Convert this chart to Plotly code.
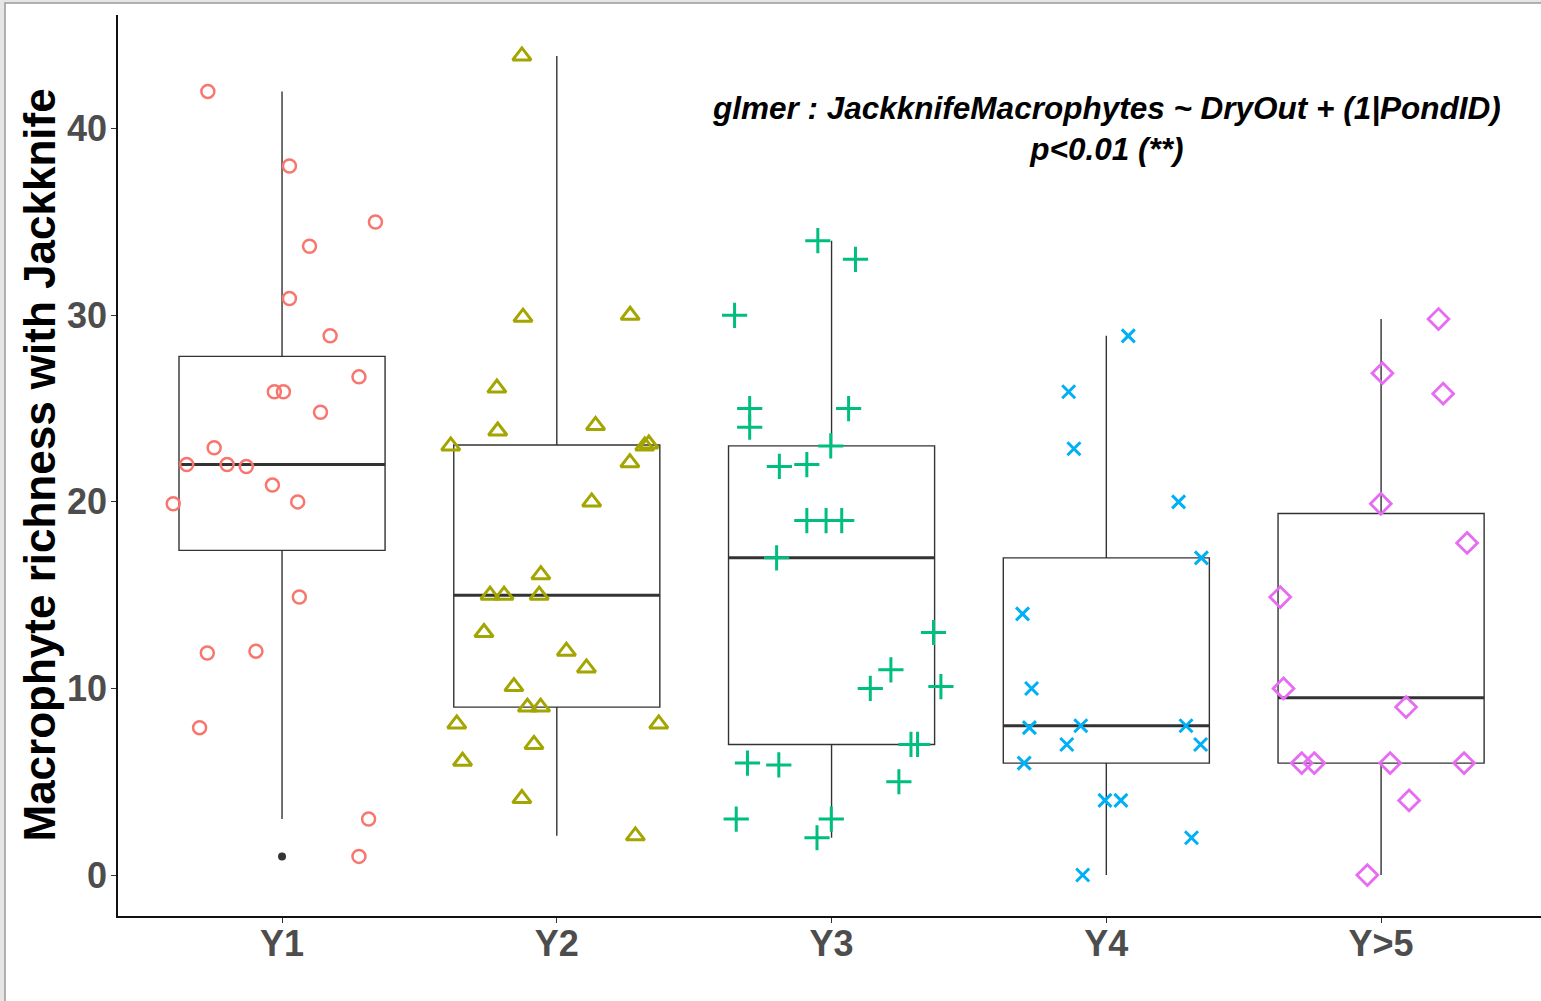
import numpy as np
import plotly.graph_objects as go

# ---------------- data ----------------
categories = ["Y1", "Y2", "Y3", "Y4", "Y>5"]
colors = ["#F8766D", "#A3A500", "#00BF7D", "#00B0F6", "#E76BF3"]
symbols = ["circle-open", "triangle-up-open", "cross-thin-open", "x-thin-open", "diamond-open"]

y1_vals = [42.0, 38.0, 35.0, 33.7, 30.9, 28.9, 26.7, 25.9, 25.9, 24.8, 22.9, 22.0,
           22.0, 21.9, 20.9, 19.9, 20.0, 14.9, 11.9, 12.0, 7.9, 3.0, 1.0]
y1_jit = [-0.27, 0.027, 0.34, 0.10, 0.027, 0.175, 0.28, -0.028, 0.005, 0.14, -0.247, -0.347,
          -0.20, -0.13, -0.035, -0.396, 0.057, 0.063, -0.272, -0.095, -0.30, 0.315, 0.28]

y2_vals = [43.9, 29.9, 30.0, 26.1, 23.8, 24.1, 23.0, 23.0, 23.1, 22.1, 20.0, 16.1, 15.0,
           15.0, 15.0, 13.0, 12.0, 11.1, 10.1, 9.0, 9.0, 8.1, 8.1, 7.0, 6.1, 4.1, 2.1]
y2_jit = [-0.127, -0.123, 0.267, -0.218, -0.215, 0.141, -0.386, 0.32, 0.335, 0.266, 0.127, -0.058, -0.243,
          -0.192, -0.064, -0.265, 0.035, 0.108, -0.156, -0.107, -0.059, -0.364, 0.371, -0.083, -0.343, -0.127, 0.286]

y3_vals = [34.0, 33.0, 30.0, 25.0, 24.0, 25.0, 23.0, 21.9, 22.0, 19.0, 19.0, 19.0, 17.0,
           13.0, 11.0, 10.0, 10.1, 7.0, 7.0, 6.0, 5.9, 5.0, 3.0, 3.0, 2.0]
y3_jit = [-0.05, 0.087, -0.353, -0.298, -0.298, 0.062, -0.003, -0.19, -0.09, -0.09, -0.02, 0.037, -0.20,
          0.371, 0.216, 0.141, 0.398, 0.289, 0.313, -0.306, -0.192, 0.245, -0.347, -0.001, -0.053]

y4_vals = [28.9, 25.9, 22.85, 20.0, 17.0, 14.0, 10.0, 7.9, 8.0, 8.0, 7.0, 7.0, 6.0, 4.0, 4.0, 2.0, 0.0]
y4_jit = [0.08, -0.137, -0.118, 0.263, 0.346, -0.305, -0.272, -0.28, -0.093, 0.29, -0.144, 0.343,
          -0.299, -0.005, 0.053, 0.31, -0.086]

y5_vals = [29.8, 26.9, 25.8, 19.9, 17.8, 14.9, 10.0, 9.0, 6.0, 6.0, 6.0, 6.0, 4.0, 0.0]
y5_jit = [0.209, 0.005, 0.226, -0.001, 0.313, -0.367, -0.355, 0.091, -0.289, -0.243, 0.033, 0.302, 0.102, -0.05]

values = [y1_vals, y2_vals, y3_vals, y4_vals, y5_vals]
jitters = [y1_jit, y2_jit, y3_jit, y4_jit, y5_jit]

y_ticks = [0, 10, 20, 30, 40]
y_title = "Macrophyte richness with Jackknife"
note_lines = ["glmer : JackknifeMacrophytes ~ DryOut + (1|PondID)", "p<0.01 (**)"]

# ---------------- figure ----------------
FONT = "Liberation Sans, Arial, sans-serif"
BOX_W = 0.75
fig = go.Figure()

for i, (cat, vals) in enumerate(zip(categories, values)):
    pos = i + 1
    v = np.array(vals, dtype=float)
    q1, med, q3 = np.percentile(v, [25, 50, 75])
    iqr = q3 - q1
    lo_lim, hi_lim = q1 - 1.5 * iqr, q3 + 1.5 * iqr
    inside = v[(v >= lo_lim) & (v <= hi_lim)]
    lf, uf = inside.min(), inside.max()
    out = v[(v < lo_lim) | (v > hi_lim)]

    fig.add_trace(go.Box(
        x=[pos], q1=[q1], median=[med], q3=[q3], lowerfence=[lf], upperfence=[uf],
        width=BOX_W, whiskerwidth=0, boxpoints=False,
        line=dict(color="#333333", width=1.4), fillcolor="rgba(255,255,255,0)",
        showlegend=False, hoverinfo="skip"))
    # thicker median line (ggplot fatten = 2)
    fig.add_trace(go.Scatter(
        x=[pos - BOX_W / 2, pos + BOX_W / 2], y=[med, med], mode="lines",
        line=dict(color="#333333", width=3), showlegend=False, hoverinfo="skip"))
    if len(out):
        fig.add_trace(go.Scatter(
            x=[pos] * len(out), y=out, mode="markers",
            marker=dict(color="#333333", size=8, symbol="circle"),
            showlegend=False, hoverinfo="skip"))

marker_sizes = [13, 16, 18, 13, 16]
marker_lw = [2.5, 3, 3, 3, 2.8]
for i, (cat, vals, jit) in enumerate(zip(categories, values, jitters)):
    pos = i + 1
    fig.add_trace(go.Scatter(
        x=[pos + j for j in jit], y=vals, mode="markers", name=cat,
        marker=dict(symbol=symbols[i], size=marker_sizes[i], color=colors[i],
                    line=dict(color=colors[i], width=marker_lw[i])),
        showlegend=False))

fig.add_annotation(
    x=4, y=40, xref="x", yref="y",
    text="<b><i>" + note_lines[0] + "<br>" + note_lines[1] + "</i></b>",
    showarrow=False, xanchor="center", yanchor="middle", align="center",
    font=dict(family=FONT, size=31.5, color="#000000"))

# y axis title as annotation (rotated)
fig.add_annotation(
    x=(39 - 118) / 1423, y=0.5, xref="paper", yref="paper",
    text="<b>" + y_title + "</b>", textangle=-90, showarrow=False,
    xanchor="center", yanchor="middle",
    font=dict(family=FONT, size=44, color="#000000"))

# outer frame (light grey window border)
fig.add_shape(type="rect", xref="paper", yref="paper", layer="below",
              x0=(5 - 118) / 1423, x1=(1560 - 118) / 1423,
              y0=(916 - 1020) / 901, y1=(916 - 3) / 901,
              fillcolor="white", line=dict(color="#9a9a9a", width=1.5))

tick_font = dict(family=FONT, size=36, color="#4D4D4D", weight="bold")
fig.update_layout(
    width=1541, height=1001,
    margin=dict(l=118, r=0, t=15, b=85),
    paper_bgcolor="#e6e6e6", plot_bgcolor="white",
    font=dict(family=FONT),
    xaxis=dict(range=[0.403, 5.582], tickvals=[1, 2, 3, 4, 5], ticktext=categories,
               showline=True, linecolor="#111111", linewidth=1.6, showgrid=False, zeroline=False,
               ticks="outside", ticklen=5, tickwidth=1.2, tickcolor="#333333",
               tickfont=tick_font, ticklabelstandoff=-10),
    yaxis=dict(range=[-2.195, 46.095], tickvals=y_ticks,
               showline=True, linecolor="#111111", linewidth=1.6, showgrid=False, zeroline=False,
               ticks="outside", ticklen=5, tickwidth=1.2, tickcolor="#333333",
               tickfont=tick_font, ticklabelstandoff=-3),
)

fig.write_html("out.html", config={"displayModeBar": False},
               post_script="document.body.style.margin='0px';document.body.style.padding='0px';")
